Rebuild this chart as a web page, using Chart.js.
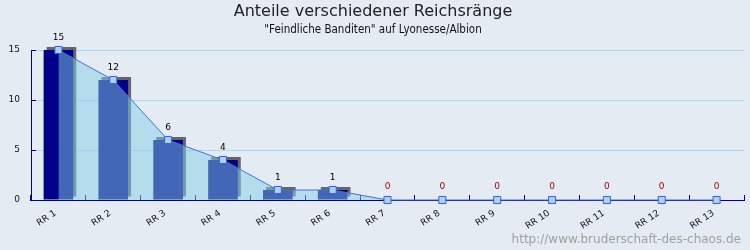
<!DOCTYPE html>
<html>
<head>
<meta charset="utf-8">
<script src="https://cdn.jsdelivr.net/npm/chart.js@4/dist/chart.umd.min.js"></script>
<style>
  body { margin: 0; background: #e5ebf3; }
  canvas { display: block; background: #e5ebf3; }
</style>
</head>
<body>
<canvas id="myChart" width="750" height="250"></canvas>
<script>
const labels = ["RR 1","RR 2","RR 3","RR 4","RR 5","RR 6","RR 7","RR 8","RR 9","RR 10","RR 11","RR 12","RR 13"];
const counts = [15, 12, 6, 4, 1, 1, 0, 0, 0, 0, 0, 0, 0];
const yTicks = [0, 5, 10, 15];

const navy = "#000088";

// gray offset shadow behind the bars (3d look)
const barShadow = {
  id: "barShadow",
  beforeDatasetDraw(chart, args) {
    if (args.meta.type !== "bar") return;
    const ctx = chart.ctx;
    ctx.save();
    ctx.shadowColor = "#666666";
    ctx.shadowOffsetX = 3;
    ctx.shadowOffsetY = -3;
    ctx.shadowBlur = 0;
  },
  afterDatasetDraw(chart, args) {
    if (args.meta.type !== "bar") return;
    chart.ctx.restore();
  }
};

const valueLabels = {
  id: "valueLabels",
  afterDatasetsDraw(chart) {
    const ctx = chart.ctx;
    const meta = chart.getDatasetMeta(0);
    ctx.save();
    ctx.font = "9px 'DejaVu Sans'";
    ctx.textAlign = "center";
    ctx.textBaseline = "middle";
    meta.data.forEach((el, i) => {
      const v = counts[i];
      ctx.fillStyle = v === 0 ? "#aa0000" : "#000000";
      ctx.fillText(String(v), el.x, el.y - (v === 0 ? 13 : 12));
    });
    ctx.restore();
  }
};

const watermark = {
  id: "watermark",
  afterDraw(chart) {
    const ctx = chart.ctx;
    ctx.save();
    ctx.font = "12px 'DejaVu Sans'";
    ctx.fillStyle = "#a0a0a0";
    ctx.textAlign = "right";
    ctx.textBaseline = "middle";
    ctx.fillText("http://www.bruderschaft-des-chaos.de", 741, 240);
    ctx.restore();
  }
};

const data = {
  labels: labels,
  datasets: [
    {
      type: "bar",
      data: counts,
      order: 2,
      backgroundColor: navy,
      barPercentage: 0.54,
      categoryPercentage: 1,
      clip: false
    },
    {
      type: "line",
      data: counts,
      order: 1,
      fill: "origin",
      backgroundColor: "rgba(132, 205, 229, 0.5)",
      borderColor: "#4a6fd0",
      borderWidth: 1,
      tension: 0,
      pointStyle: "rect",
      pointRadius: 5,
      pointBackgroundColor: "#a8d4f0",
      pointBorderColor: "#3a5ae8",
      pointBorderWidth: 1,
      clip: false
    }
  ]
};

const config = {
  type: "bar",
  data: data,
  options: {
    responsive: false,
    animation: false,
    layout: { padding: { left: 0, right: 4, top: 0, bottom: 0 } },
    scales: {
      x: {
        grid: {
          offset: true,
          drawOnChartArea: false,
          color: navy,
          tickColor: navy,
          tickLength: -5
        },
        border: { color: navy, width: 1 },
        ticks: {
          minRotation: 33,
          maxRotation: 33,
          padding: 13,
          labelOffset: -3,
          color: "#111111",
          font: { family: "DejaVu Sans", size: 9 }
        },
        afterFit(scale) { scale.height = 50; }
      },
      y: {
        min: 0,
        max: 15,
        afterBuildTicks(scale) { scale.ticks = yTicks.map(v => ({ value: v })); },
        grid: {
          color: "#a8d8ea",
          tickColor: navy,
          tickLength: -5
        },
        border: { color: navy, width: 1 },
        ticks: {
          padding: 16,
          color: "#111111",
          font: { family: "DejaVu Sans", size: 9 }
        },
        afterFit(scale) { scale.width = 31; }
      }
    },
    plugins: {
      legend: { display: false },
      tooltip: { enabled: false },
      title: {
        display: true,
        text: "Anteile verschiedener Reichsränge",
        color: "#222222",
        font: { family: "DejaVu Sans", size: 16, weight: "normal" },
        padding: { top: 2, bottom: 2 }
      },
      subtitle: {
        display: true,
        text: "\"Feindliche Banditen\" auf Lyonesse/Albion",
        color: "#111111",
        font: { family: "'DejaVu Sans Condensed', 'DejaVu Sans'", size: 11.5 },
        padding: { top: 0, bottom: 13 }
      }
    }
  },
  plugins: [barShadow, valueLabels, watermark]
};

const myChart = new Chart(
  document.getElementById("myChart").getContext("2d"),
  config
);
</script>
</body>
</html>
